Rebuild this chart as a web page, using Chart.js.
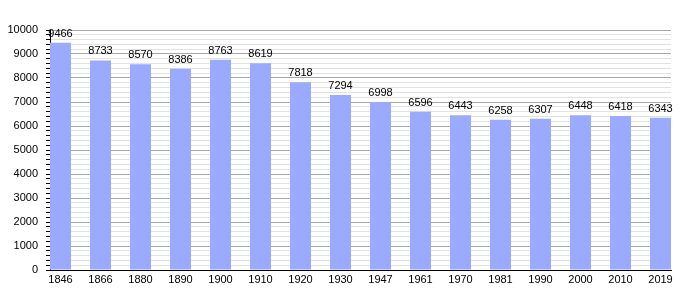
<!DOCTYPE html>
<html>
<head>
<meta charset="utf-8">
<script src="https://cdn.jsdelivr.net/npm/chart.js@4"></script>
<style>
  html, body { margin: 0; padding: 0; background: #fff; }
  #wrap { width: 700px; height: 300px; }
</style>
</head>
<body>
<div id="wrap"><canvas id="popChart"></canvas></div>
<script>
const years = ['1846','1866','1880','1890','1900','1910','1920','1930','1947','1961','1970','1981','1990','2000','2010','2019'];
const population = [9466,8733,8570,8386,8763,8619,7818,7294,6998,6596,6443,6258,6307,6448,6418,6343];
const yMax = 10000;
const yMinorStep = 200;
const yMajorStep = 1000;

// value labels above each bar
const barLabels = {
  id: 'barLabels',
  afterDatasetsDraw(chart) {
    const c = chart.ctx;
    const meta = chart.getDatasetMeta(0);
    c.save();
    c.font = '11px "Liberation Sans", Arial, sans-serif';
    c.fillStyle = '#000';
    c.textAlign = 'center';
    c.textBaseline = 'middle';
    meta.data.forEach((bar, i) => {
      c.fillText(String(population[i]), bar.x, bar.y - 9);
    });
    c.restore();
  }
};

const ctx = document.getElementById('popChart').getContext('2d');
new Chart(ctx, {
  type: 'bar',
  data: {
    datasets: [{
      data: population.map((v, i) => ({ x: i, y: v })),
      backgroundColor: '#99aaff',
      borderWidth: 0,
      categoryPercentage: 1,
      barPercentage: 0.525
    }]
  },
  plugins: [barLabels],
  options: {
    responsive: true,
    maintainAspectRatio: false,
    animation: false,
    layout: { padding: { top: 30, right: 29, left: 0, bottom: 0 } },
    plugins: {
      legend: { display: false },
      tooltip: { enabled: false }
    },
    scales: {
      x: {
        type: 'linear',
        offset: false,
        min: -0.2625,
        max: years.length - 1 + 0.2625,
        afterBuildTicks(scale) {
          scale.ticks = years.map((_, i) => ({ value: i }));
        },
        afterFit(scale) { scale.height = 30; },
        grid: { display: false, drawTicks: false, offset: false },
        border: { display: true, color: '#000', width: 1 },
        ticks: {
          padding: 3,
          autoSkip: false,
          maxRotation: 0,
          color: '#000',
          font: { family: '"Liberation Sans", Arial, sans-serif', size: 11 },
          callback: (v) => years[v] ?? ''
        }
      },
      y: {
        min: 0,
        max: yMax,
        afterFit(scale) { scale.width = 50; },
        border: { display: true, color: '#000', width: 1 },
        grid: {
          color: (c) => (c.tick && c.tick.value % yMajorStep === 0) ? '#a8a8a8' : '#e2e2e2',
          lineWidth: 1,
          drawTicks: true,
          tickLength: 4,
          tickColor: '#000'
        },
        ticks: {
          stepSize: yMinorStep,
          autoSkip: false,
          padding: 8,
          color: '#000',
          font: { family: '"Liberation Sans", Arial, sans-serif', size: 11 },
          callback: (v) => v % yMajorStep === 0 ? String(v) : ''
        }
      }
    }
  }
});
</script>
</body>
</html>
